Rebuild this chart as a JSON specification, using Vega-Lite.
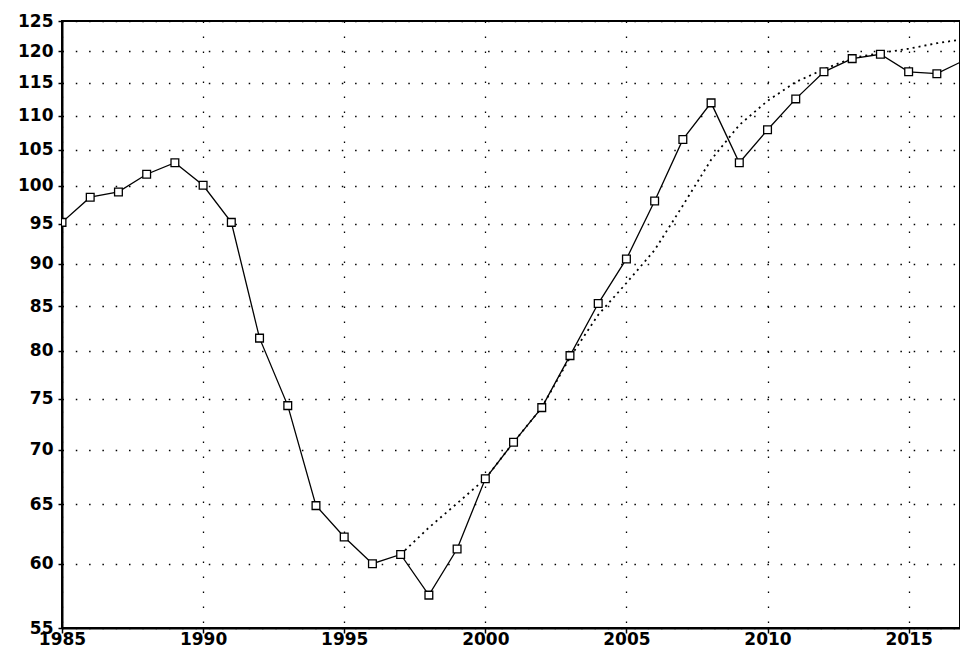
{
  "$schema": "https://vega.github.io/schema/vega-lite/v6.json",
  "width": 898,
  "height": 607,
  "autosize": {"type": "none"},
  "padding": {"left": 62, "top": 21, "right": 0, "bottom": 21},
  "background": "white",
  "datasets": {
    "actual": [
      {"year": 1985, "value": 95.2},
      {"year": 1986, "value": 98.5},
      {"year": 1987, "value": 99.2},
      {"year": 1988, "value": 101.6},
      {"year": 1989, "value": 103.2},
      {"year": 1990, "value": 100.1},
      {"year": 1991, "value": 95.2},
      {"year": 1992, "value": 81.4},
      {"year": 1993, "value": 74.3},
      {"year": 1994, "value": 64.9},
      {"year": 1995, "value": 62.2},
      {"year": 1996, "value": 60.0},
      {"year": 1997, "value": 60.75},
      {"year": 1998, "value": 57.5},
      {"year": 1999, "value": 61.2},
      {"year": 2000, "value": 67.3},
      {"year": 2001, "value": 70.7},
      {"year": 2002, "value": 74.1},
      {"year": 2003, "value": 79.5},
      {"year": 2004, "value": 85.3},
      {"year": 2005, "value": 90.6},
      {"year": 2006, "value": 98.0},
      {"year": 2007, "value": 106.5},
      {"year": 2008, "value": 111.9},
      {"year": 2009, "value": 103.2},
      {"year": 2010, "value": 107.9},
      {"year": 2011, "value": 112.5},
      {"year": 2012, "value": 116.7},
      {"year": 2013, "value": 118.8},
      {"year": 2014, "value": 119.5},
      {"year": 2015, "value": 116.7},
      {"year": 2016, "value": 116.4},
      {"year": 2017, "value": 118.6}
    ],
    "trend": [
      {"year": 1997, "value": 60.75},
      {"year": 1998, "value": 63.0},
      {"year": 1999, "value": 65.1},
      {"year": 2000, "value": 67.3},
      {"year": 2001, "value": 70.7},
      {"year": 2002, "value": 74.1},
      {"year": 2003, "value": 79.3},
      {"year": 2004, "value": 84.0},
      {"year": 2005, "value": 87.7},
      {"year": 2006, "value": 91.7},
      {"year": 2007, "value": 97.4},
      {"year": 2008, "value": 103.6},
      {"year": 2009, "value": 108.6},
      {"year": 2010, "value": 112.2},
      {"year": 2011, "value": 115.1},
      {"year": 2012, "value": 117.1},
      {"year": 2013, "value": 118.9},
      {"year": 2014, "value": 119.7},
      {"year": 2015, "value": 120.4},
      {"year": 2016, "value": 121.3},
      {"year": 2017, "value": 122.0}
    ]
  },
  "encoding": {
    "x": {
      "field": "year",
      "type": "quantitative",
      "scale": {"domain": [1985, 2016.82], "nice": false, "zero": false},
      "axis": {
        "title": null,
        "values": [1985, 1990, 1995, 2000, 2005, 2010, 2015],
        "format": "d",
        "grid": true,
        "gridDash": [1.5, 13.5],
        "gridColor": "#000",
        "gridOpacity": 1,
        "gridWidth": 1.3,
        "tickSize": 5,
        "labelPadding": -2,
        "labelFlush": false
      }
    },
    "y": {
      "field": "value",
      "type": "quantitative",
      "scale": {"type": "log", "domain": [55, 125], "nice": false, "zero": false},
      "axis": {
        "title": null,
        "values": [55, 60, 65, 70, 75, 80, 85, 90, 95, 100, 105, 110, 115, 120, 125],
        "format": "d",
        "grid": true,
        "gridDash": [1.5, 11.8],
        "gridColor": "#000",
        "gridOpacity": 1,
        "gridWidth": 1.3,
        "tickSize": 4,
        "labelPadding": 5
      }
    }
  },
  "layer": [
    {
      "data": {"name": "trend"},
      "mark": {"type": "line", "color": "#000", "strokeWidth": 1.8, "strokeDash": [2, 4], "clip": true}
    },
    {
      "data": {"name": "actual"},
      "mark": {"type": "line", "color": "#000", "strokeWidth": 1.3, "clip": true}
    },
    {
      "data": {"name": "actual"},
      "mark": {"type": "point", "shape": "square", "size": 60, "filled": true, "fill": "white", "stroke": "#000", "strokeWidth": 1.3, "opacity": 1, "clip": true}
    }
  ],
  "config": {
    "view": {"stroke": "#000", "strokeWidth": 2},
    "axis": {
      "labelFont": "DejaVu Sans",
      "labelFontWeight": "bold",
      "labelFontSize": 17,
      "labelColor": "#000",
      "domainColor": "#000",
      "domainWidth": 2,
      "tickColor": "#000",
      "tickWidth": 1.5
    }
  }
}
